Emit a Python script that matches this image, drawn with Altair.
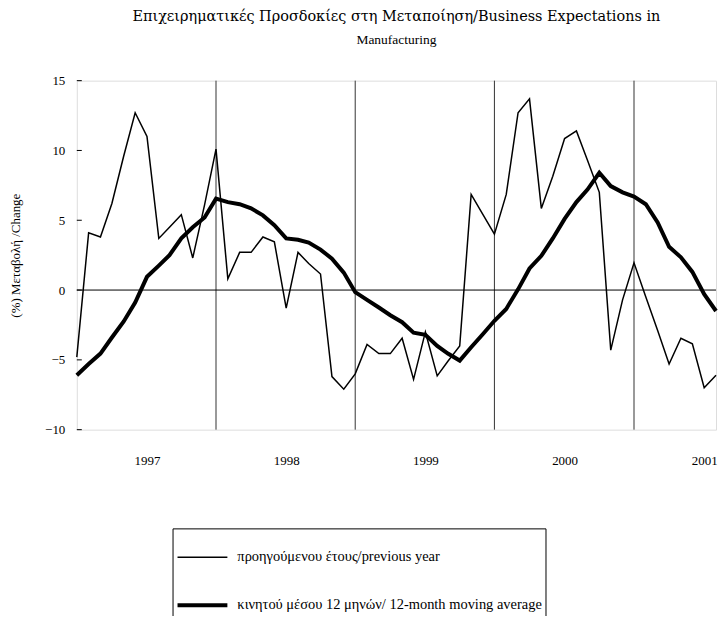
import altair as alt
import pandas as pd

# ---- data (monthly, Jul 1996 - Feb 2001) ----
months = pd.date_range("1996-07-01", periods=56, freq="MS").strftime("%Y-%m-%d").tolist()

prev_year = [
    -4.8, 4.1, 3.8, 6.2, 9.6, 12.7, 11.0, 3.7, 4.5, 5.4, 2.3, 6.1,
    10.1, 0.8, 2.7, 2.7, 3.8, 3.45, -1.3, 2.7, 1.9, 1.15, -6.2, -7.1,
    -6.0, -3.9, -4.55, -4.55, -3.45, -6.4, -3.0, -6.15, -5.1, -4.0, 6.85, 5.4,
    4.0, 6.85, 12.7, 13.7, 5.85, 8.15, 10.85, 11.4, 9.3, 7.0, -4.3, -0.7,
    1.95, -0.5, -2.9, -5.3, -3.45, -3.85, -7.0, -6.1,
]

moving_avg = [
    -6.1, -5.3, -4.55, -3.4, -2.25, -0.9, 0.95, 1.75, 2.5, 3.7, 4.5, 5.2,
    6.55, 6.3, 6.15, 5.85, 5.35, 4.65, 3.7, 3.6, 3.4, 2.9, 2.25, 1.25,
    -0.15, -0.7, -1.25, -1.8, -2.3, -3.05, -3.2, -4.0, -4.55, -5.05, -4.1, -3.15,
    -2.2, -1.35, 0.05, 1.55, 2.45, 3.7, 5.1, 6.3, 7.2, 8.4, 7.45, 7.0,
    6.7, 6.15, 4.85, 3.1, 2.35, 1.3, -0.3, -1.5,
]

series_names = [
    "προηγούμενου έτους/previous year",
    "κινητού μέσου 12 μηνών/ 12-month moving average",
]
title_lines = [
    "Επιχειρηματικές Προσδοκίες στη Μεταποίηση/Business Expectations in",
    "Manufacturing",
]
year_labels = [1997, 1998, 1999, 2000, 2001]
grid_dates = ["1997-07-01", "1998-07-01", "1999-07-01", "2000-07-01"]
y_ticks = [-10, -5, 0, 5, 10, 15]

FONT = "Liberation Serif"

df = pd.DataFrame({
    "date": months * 2,
    "value": prev_year + moving_avg,
    "series": [series_names[0]] * len(months) + [series_names[1]] * len(months),
})

x_scale = alt.Scale(type="utc", domain=[months[0], months[-1]], nice=False)
y_scale = alt.Scale(domain=[-10, 15], nice=False)

year_values = [alt.DateTime(year=y, month=1, date=1, utc=True) for y in year_labels]

grid = alt.Chart(pd.DataFrame({"date": grid_dates})).mark_rule(
    color="#333", strokeWidth=1
).encode(x=alt.X("date:T", scale=x_scale))

zero = alt.Chart(pd.DataFrame({"value": [0]})).mark_rule(
    color="black", strokeWidth=1
).encode(y=alt.Y("value:Q", scale=y_scale))

yticks = alt.Chart(pd.DataFrame({"value": y_ticks})).mark_rule(
    color="black", strokeWidth=1
).encode(y=alt.Y("value:Q", scale=y_scale), x=alt.value(0), x2=alt.value(5))

lines = alt.Chart(df).mark_line(color="black").encode(
    x=alt.X(
        "date:T",
        scale=x_scale,
        axis=alt.Axis(
            values=year_values, format="%Y", title=None, grid=False, domain=False,
            tickSize=0, labelPadding=25, labelFont=FONT, labelFontSize=13,
            labelColor="black", labelOverlap=False,
        ),
    ),
    y=alt.Y(
        "value:Q",
        scale=y_scale,
        axis=alt.Axis(
            values=y_ticks, title="(%) Μεταβολή /Change", grid=False, domain=False,
            tickSize=0, labelPadding=12, labelFont=FONT, labelFontSize=13,
            labelColor="black", titleFont=FONT, titleFontSize=13,
            titleFontWeight="normal", titleColor="black", titlePadding=22,
        ),
    ),
    strokeWidth=alt.StrokeWidth(
        "series:N",
        scale=alt.Scale(domain=series_names, range=[1.5, 4]),
        legend=alt.Legend(
            title=None, orient="none", legendX=96, legendY=449, direction="vertical",
            strokeColor="black", fillColor="white", padding=3,
            symbolType="stroke", symbolSize=2500, symbolStrokeColor="black",
            labelFont=FONT, labelFontSize=14.5, labelColor="black", labelLimit=0,
            labelOffset=8, rowPadding=14,
        ),
    ),
    detail="series:N",
)

chart = alt.layer(grid, zero, yticks, lines).properties(
    width=641,
    height=350,
    autosize=alt.AutoSizeParams(type="none"),
    padding={"left": 69, "top": 72, "right": 2, "bottom": 186},
    title=alt.Title(
        title_lines[0],
        subtitle=title_lines[1],
        font="DejaVu Serif", fontSize=14.5, fontWeight="normal", color="black",
        subtitleFont=FONT, subtitleFontSize=13.5, subtitleColor="black",
        subtitlePadding=9, anchor="middle", offset=27,
    ),
).configure_view(stroke="black", strokeWidth=1.5).configure(background="white")

chart.save("out.html", embed_options={"renderer": "svg", "actions": False})
